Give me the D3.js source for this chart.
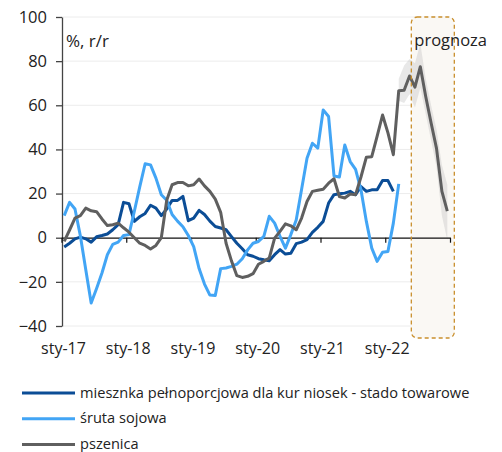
<!DOCTYPE html>
<html>
<head>
<meta charset="utf-8">
<script src="https://cdn.jsdelivr.net/npm/d3@7"></script>
<style>
  body { margin: 0; background: #fff; }
  svg { display: block; font-family: "Open Sans", sans-serif; }
</style>
</head>
<body>
<div id="chart"></div>
<script>
// monthly y/y changes, sty-17 .. gru-22 (index = month since Jan 2017)
const mieszanka = [-4.2, -2.5, -0.5, 0.3, -0.5, -2, 0.4, 1, 1.7, 3.6, 5.9, 16, 15.4, 7.4, 9.5, 11, 14.7, 13.4, 10, 13,
  16.9, 16.9, 18.7, 7.7, 8.9, 12.4, 10.5, 7.5, 5.1, 4.4, 3.6, 0.5, -2.5, -5, -7.7, -8.4, -9.5, -10, -10.4, -7.7,
  -5.4, -7.4, -7, -2.7, -2, -0.9, 2.4, 4.7, 7.4, 15.7, 19.5, 19.9, 20.2, 21, 19.5, 23.2, 21, 21.7, 21.7, 25.9,
  25.9, 21];
const sruta = [10, 16, 13, 0.8, -14.5, -29.6, -23, -16, -7.7, -3, -2, 1, 1.4, 12, 23, 33.5, 33, 27, 19.5, 17,
  10.5, 7.5, 5, 1, -4, -14, -21, -26, -26.2, -14, -13.7, -13, -12, -9.5, -5.5, -2.5, -1.7, 0.6, 9.7, 6.6,
  0.6, -4.7, 1.4, 8, 22, 36, 42.8, 40.6, 57.9, 54.9, 28, 27.5, 42, 34.5, 31, 21.7, 7.4, -4.7, -10.7, -6.6,
  -6.2, 6.6, 24.4];
const pszenica = [-1.7, 3.5, 8.9, 10, 13.4, 12.2, 11.8, 8.5, 5.5, 5.9, 6.6, 4.5, 2.5, 0, -2.5, -3.5, -5.1, -3.5, 0, 17,
  24, 25, 25, 23.5, 24, 26.6, 23.5, 21, 17.5, 11.5, -2.5, -10.5, -17.2, -18, -17.5, -16.3, -12, -10.7, -9.2, -0.2,
  2.9, 6.3, 5.4, 3.6, 8.9, 16.4, 21, 21.5, 22, 24.7, 26.7, 18.7, 18, 19.8, 19.5, 27.5, 36.5, 36.7, 46, 55.6,
  47.5, 37.6, 66.6, 66.8, 73.3, 68.2, 77.5, 64, 52, 40.5, 21, 12];

// forecast band for pszenica, starts at index 62
const bandStart = 62;
const bandUpper = [72, 78, 81, 79, 88, 72, 60, 49, 33, 24];
const bandLower = [62, 61, 65, 59, 68, 56, 44, 32, 10, -1];

const yearLabels = ["sty-17", "sty-18", "sty-19", "sty-20", "sty-21", "sty-22"];
const yTicks = [-40, -20, 0, 20, 40, 60, 80, 100];

const seriesNames = ["miesznka pełnoporcjowa dla kur niosek - stado towarowe", "śruta sojowa", "pszenica"];
const seriesColors = ["#0b4d96", "#42a5f5", "#5f5f5f"];

const width = 502, height = 452;
const svg = d3.select("#chart").append("svg")
  .attr("width", width)
  .attr("height", height);

//#region scales
const x = d3.scaleLinear().domain([-0.5, 71.5]).range([61.5, 450]);
const y = d3.scaleLinear().domain([-40, 100]).range([326, 17]);
//#endregion

//#region grid
svg.append("g")
  .selectAll("line")
  .data(yTicks.filter(d => d !== 0))
  .enter()
  .append("line")
  .attr("x1", x(-0.5))
  .attr("x2", x(71.5))
  .attr("y1", d => y(d))
  .attr("y2", d => y(d))
  .style("stroke", "#ececec")
  .style("stroke-width", 1);
//#endregion

//#region forecast box (fill)
const boxX0 = x(64.33), boxX1 = x(72.3);
svg.append("rect")
  .attr("x", boxX0)
  .attr("y", 17)
  .attr("width", boxX1 - boxX0)
  .attr("height", 321)
  .attr("rx", 6)
  .style("fill", "#faf8f4");

const band = d3.area()
  .x((d, i) => x(bandStart + i))
  .y0((d, i) => y(bandLower[i]))
  .y1(d => y(d));
svg.append("path")
  .datum(bandUpper)
  .attr("d", band)
  .style("fill", "rgba(190,190,190,0.35)");
//#endregion

//#region axes
const yAxis = d3.axisLeft(y).tickValues(yTicks).tickSize(6).tickSizeOuter(0).tickPadding(9);
svg.append("g")
  .attr("transform", "translate(62,0)")
  .call(yAxis)
  .call(g => g.select(".domain").style("stroke", "#444").style("stroke-width", 1.3))
  .call(g => g.selectAll(".tick line").style("stroke", "#444").style("stroke-width", 1.3))
  .call(g => g.selectAll("text").style("font-size", "16.5px").style("fill", "#222")
    .style("font-family", "'Open Sans', sans-serif"));

const boundaries = d3.range(0, 7).map(k => k * 12 - 0.5);
const zeroAxis = d3.axisBottom(x).tickValues(boundaries).tickSize(5).tickSizeOuter(0).tickFormat("");
svg.append("g")
  .attr("transform", `translate(0,${y(0)})`)
  .call(zeroAxis)
  .call(g => g.select(".domain").style("stroke", "#111").style("stroke-width", 1.2))
  .call(g => g.selectAll(".tick line").style("stroke", "#111").style("stroke-width", 1.2));

svg.append("g")
  .selectAll("text")
  .data(yearLabels)
  .enter()
  .append("text")
  .text(d => d)
  .attr("x", (d, i) => x(i * 12 - 0.5) + 2)
  .attr("y", 354)
  .attr("text-anchor", "middle")
  .style("font-size", "16px")
  .style("fill", "#222");
//#endregion

//#region lines
const line = d3.line().x((d, i) => x(i)).y(d => y(d));
[mieszanka, sruta, pszenica].forEach((data, i) => {
  svg.append("path")
    .datum(data)
    .attr("d", line)
    .style("fill", "none")
    .style("stroke", seriesColors[i])
    .style("stroke-width", 3)
    .style("stroke-linejoin", "round");
});
//#endregion

//#region forecast box (border + label)
svg.append("rect")
  .attr("x", boxX0)
  .attr("y", 17)
  .attr("width", boxX1 - boxX0)
  .attr("height", 321)
  .attr("rx", 6)
  .style("fill", "none")
  .style("stroke", "#c98f2c")
  .style("stroke-width", 1.3)
  .style("stroke-dasharray", "4,3");

svg.append("text")
  .text("prognoza")
  .attr("x", boxX0 + 3)
  .attr("y", 46)
  .style("font-size", "16.5px")
  .style("fill", "#222");

svg.append("text")
  .text("%, r/r")
  .attr("x", 66)
  .attr("y", 47)
  .style("font-size", "17px")
  .style("fill", "#222");
//#endregion

//#region legend
const legend = svg.append("g").attr("transform", "translate(22,393)");
const items = legend.selectAll("g")
  .data(seriesNames)
  .enter()
  .append("g")
  .attr("transform", (d, i) => `translate(0,${i * 25.8})`);
items.append("line")
  .attr("x1", 0)
  .attr("x2", 53)
  .style("stroke", (d, i) => seriesColors[i])
  .style("stroke-width", 3);
items.append("text")
  .text(d => d)
  .attr("x", 58)
  .attr("y", 4.5)
  .style("font-size", "14.6px")
  .style("fill", "#222");
//#endregion
</script>
</body>
</html>
